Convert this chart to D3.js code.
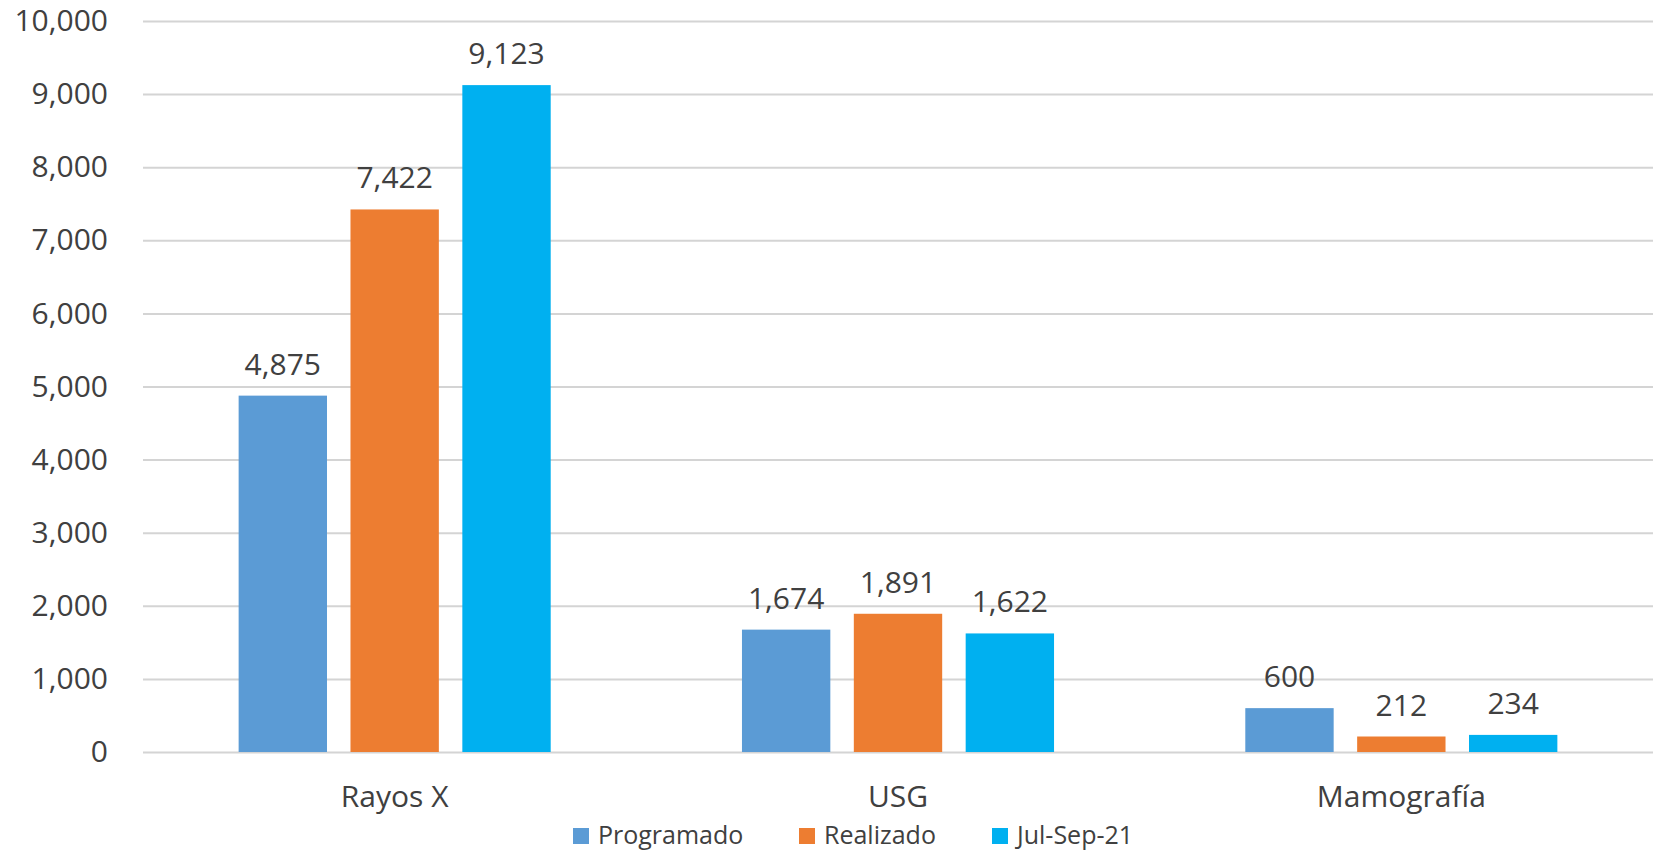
<!DOCTYPE html>
<html>
<head>
<meta charset="utf-8">
<script src="https://cdn.jsdelivr.net/npm/d3@7"></script>
<style>
	body { margin: 0; background: #fff; }
	svg { display: block; font-family: "Open Sans", sans-serif; }
</style>
</head>
<body>
<div id="chart"></div>
<script>
var categories = [ "Rayos X", "USG", "Mamografía" ];
var seriesNames = [ "Programado", "Realizado", "Jul-Sep-21" ];
var programado = [ 4875, 1674, 600 ];
var realizado = [ 7422, 1891, 212 ];
var julSep21 = [ 9123, 1622, 234 ];
var yTicks = [ 0, 1000, 2000, 3000, 4000, 5000, 6000, 7000, 8000, 9000, 10000 ];

var colors = [ "#5B9BD5", "#ED7D31", "#00B0F0" ];
var textColor = "#404040";

var width = 1655, height = 852;

var margin = { top: 21, left: 143, right: 2, bottom: 100 };

var svg = d3.select( "#chart" ).append( "svg" )
	.attr( "width", width )
	.attr( "height", height );

var series = [ programado, realizado, julSep21 ];

var rows = categories.map( function( cat, i ) {
	return {
		name: cat,
		values: seriesNames.map( function( s, j ) { return { key: s, index: j, value: series[ j ][ i ] }; } )
	};
} );

var x0 = d3.scaleBand()
	.domain( categories )
	.range( [ margin.left, width - margin.right ] )
	.padding( 0 );

// bars sit in the middle of each category band
var groupPad = x0.bandwidth() * 0.19;
var x1 = d3.scaleBand()
	.domain( d3.range( seriesNames.length ) )
	.range( [ groupPad, x0.bandwidth() - groupPad ] )
	.paddingInner( 0.21 );

var y = d3.scaleLinear()
	.domain( [ 0, 10000 ] )
	.range( [ height - margin.bottom, margin.top ] );

var fmt = d3.format( "," );

// Gridlines + y labels
//
var yAxis = svg.append( "g" )
	.attr( "transform", "translate(" + margin.left + ",0)" )
	.call( d3.axisLeft( y )
		.tickValues( yTicks )
		.tickFormat( fmt )
		.tickSize( -( width - margin.left - margin.right ) )
		.tickPadding( 35 ) );

yAxis.select( ".domain" ).remove();
yAxis.selectAll( ".tick line" )
	.attr( "stroke", "#D4D4D4" )
	.attr( "stroke-width", 2 );
yAxis.selectAll( ".tick text" )
	.attr( "fill", textColor )
	.style( "font-size", "30px" )
	.style( "font-family", "'Open Sans', sans-serif" );

// Bars
//
var groups = svg.append( "g" )
	.selectAll( "g" )
	.data( rows )
	.enter()
	.append( "g" )
	.attr( "transform", function( d ) { return "translate(" + x0( d.name ) + ",0)"; } );

groups.selectAll( "rect" )
	.data( function( d ) { return d.values; } )
	.enter()
	.append( "rect" )
	.attr( "x", function( d ) { return x1( d.index ); } )
	.attr( "y", function( d ) { return y( d.value ); } )
	.attr( "width", x1.bandwidth() )
	.attr( "height", function( d ) { return y( 0 ) - y( d.value ); } )
	.attr( "fill", function( d ) { return colors[ d.index ]; } );

groups.selectAll( "text" )
	.data( function( d ) { return d.values; } )
	.enter()
	.append( "text" )
	.attr( "x", function( d ) { return x1( d.index ) + x1.bandwidth() / 2; } )
	.attr( "y", function( d ) { return y( d.value ) - 21; } )
	.attr( "text-anchor", "middle" )
	.attr( "fill", textColor )
	.style( "font-size", "30px" )
	.text( function( d ) { return fmt( d.value ); } );

// Category labels
//
var xAxis = svg.append( "g" )
	.attr( "transform", "translate(0," + y( 0 ) + ")" )
	.call( d3.axisBottom( x0 ).tickSize( 0 ).tickPadding( 0 ) );

xAxis.select( ".domain" ).remove();
xAxis.selectAll( ".tick text" )
	.attr( "y", 55 )
	.attr( "dy", 0 )
	.attr( "fill", textColor )
	.style( "font-size", "30px" )
	.style( "font-family", "'Open Sans', sans-serif" );

// Legend
//
var legendX = [ 573, 799, 992 ];

var legend = svg.append( "g" )
	.selectAll( "g" )
	.data( seriesNames )
	.enter()
	.append( "g" )
	.attr( "transform", function( d, i ) { return "translate(" + legendX[ i ] + ",828)"; } );

legend.append( "rect" )
	.attr( "width", 16 )
	.attr( "height", 16 )
	.attr( "fill", function( d, i ) { return colors[ i ]; } );

legend.append( "text" )
	.attr( "x", 25 )
	.attr( "y", 16 )
	.attr( "fill", textColor )
	.style( "font-size", "25px" )
	.text( function( d ) { return d; } );
</script>
</body>
</html>
